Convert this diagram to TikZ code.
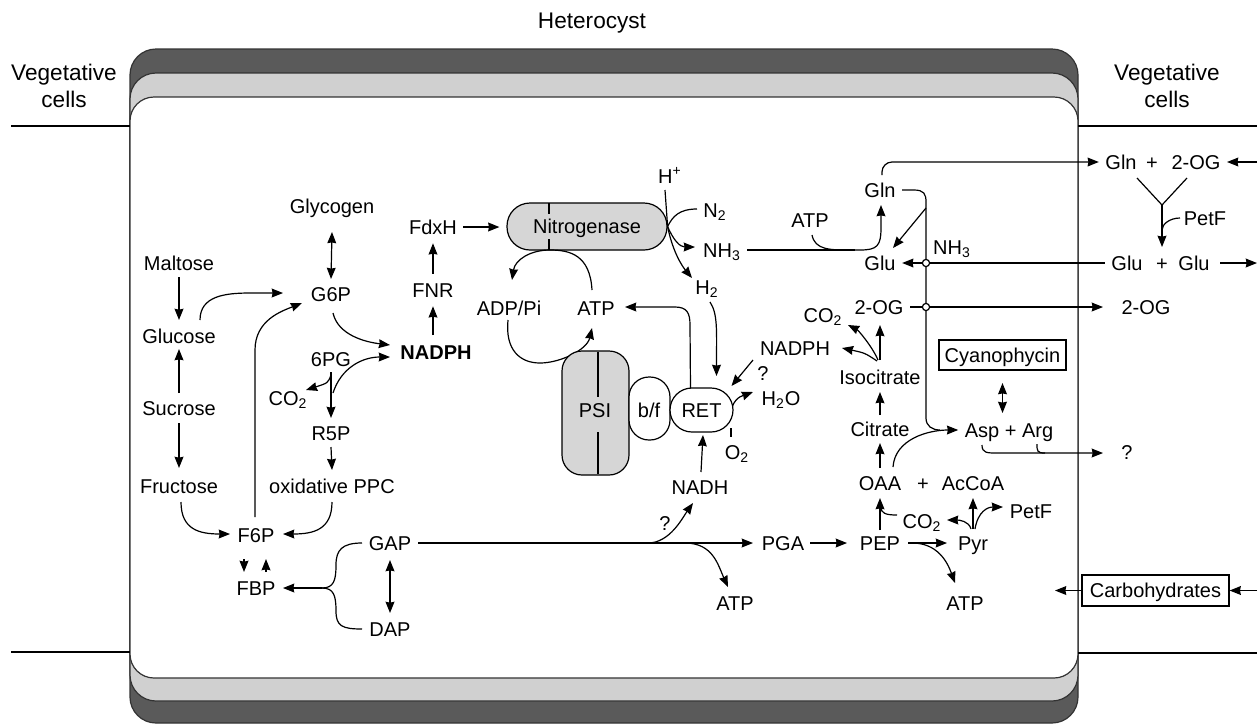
\documentclass[tikz,border=0pt]{standalone}
\usepackage{fontspec}
\setmainfont{Liberation Sans}
\usetikzlibrary{arrows.meta,calc}
\definecolor{darklayer}{HTML}{5A5A5A}
\definecolor{lightlayer}{HTML}{D0D0D0}
\definecolor{enzfill}{HTML}{D6D6D6}
\begin{document}
\begin{tikzpicture}[x=0.5pt,y=-0.5pt,
  font=\fontsize{10}{12}\selectfont,
  line width=0.6pt,
  >={Stealth[length=5.6pt,width=4.4pt,inset=0.4pt]},
  lbl/.style={inner sep=3pt,text height=8.4pt,text depth=1.3pt},
  title/.style={font=\fontsize{11.3}{13.5}\selectfont,align=center,inner sep=0pt},
  framebox/.style={draw,inner sep=0pt,text height=8.4pt,text depth=1.3pt},
  enzyme/.style={draw,fill=enzfill,inner sep=0pt,text height=8.4pt,text depth=1.3pt},
  carrier/.style={draw,fill=white,inner sep=0pt,text height=8.4pt,text depth=1.3pt},
  hub/.style={draw,fill=white,circle,inner sep=0pt,minimum size=3.6pt},
  layer/.style={draw=black!80,line width=0.6pt},
]
\useasboundingbox (0,0) rectangle (1260,725);
\fill[white] (0,0) rectangle (1260,725);

% ---------------- cell envelope ----------------
\draw[layer,fill=darklayer,rounded corners=13pt] (130,49) rectangle (1078,723);
\draw[layer,fill=lightlayer,rounded corners=13pt] (130,73) rectangle (1078,701);
\draw[layer,fill=white,rounded corners=12pt] (130,97) rectangle (1078,678);
\draw (11,126) -- (130,126);
\draw (1078,126) -- (1257,126);
\draw (11,652) -- (130,652);
\draw (1078,653) -- (1257,653);

\node[title] (het) at (592,23) {Heterocyst};
\node[title] (vegl) at (64,86) {Vegetative\\cells};
\node[title] (vegr) at (1167,86) {Vegetative\\cells};

% ---------------- nodes: left ----------------
\node[lbl] (glycogen) at (332,206) {Glycogen};
\node[lbl] (maltose) at (179,263) {Maltose};
\node[lbl] (g6p) at (331,294) {G6P};
\node[lbl] (glucose) at (179,336) {Glucose};
\node[lbl] (pg) at (331,359) {6PG};
\node[lbl] (nadphL) at (436,352) {\textbf{NADPH}};
\node[lbl] (fdxh) at (433,227) {FdxH};
\node[lbl] (fnr) at (433,290) {FNR};
\node[lbl] (co2a) at (288,398) {CO\textsubscript{2}};
\node[lbl] (sucrose) at (179,408) {Sucrose};
\node[lbl] (r5p) at (331,433) {R5P};
\node[lbl] (fructose) at (179,486) {Fructose};
\node[lbl] (oxppc) at (332,486) {oxidative PPC};
\node[lbl] (f6p) at (256,535) {F6P};
\node[lbl] (fbp) at (256,588) {FBP};
\node[lbl] (gap) at (390,543) {GAP};
\node[lbl] (dap) at (390,629) {DAP};

% ---------------- nodes: centre ----------------
\node[lbl] (adp) at (509,308) {ADP/Pi};
\node[lbl] (atpC) at (596,308) {ATP};
\node[lbl] (hplus) at (670,176) {H\textsuperscript{+}};
\node[lbl] (n2) at (715,210) {N\textsubscript{2}};
\node[lbl] (nh3a) at (722,250) {NH\textsubscript{3}};
\node[lbl] (h2) at (707,287) {H\textsubscript{2}};
\node[lbl] (nadphR) at (795,348) {NADPH};
\node[lbl] (qR) at (763,373) {?};
\node[lbl] (h2o) at (781,398) {H\textsubscript{2}O};
\node[lbl] (o2) at (737,452) {O\textsubscript{2}};
\node[lbl] (nadh) at (700,487) {NADH};
\node[lbl] (qB) at (665,523) {?};
\node[lbl] (pga) at (783,543) {PGA};
\node[lbl] (atpB) at (735,603) {ATP};

% ---------------- nodes: right ----------------
\node[lbl] (atpR) at (810,220) {ATP};
\node[lbl] (gln) at (880,190) {Gln};
\node[lbl] (glu) at (880,263) {Glu};
\node[lbl] (nh3b) at (952,247) {NH\textsubscript{3}};
\node[lbl] (og2) at (879,307) {2-OG};
\node[lbl] (co2b) at (823,315) {CO\textsubscript{2}};
\node[lbl] (isocit) at (880,377) {Isocitrate};
\node[framebox,minimum width=63.5pt,minimum height=15pt] (cyano) at (1002.5,355) {Cyanophycin};
\node[lbl] (citrate) at (880,429) {Citrate};
\node[lbl] (asparg) at (1009,430) {Asp + Arg};
\node[lbl] (qAsp) at (1127,452) {?};
\node[lbl] (oaa) at (880,483) {OAA};
\node[lbl] (plus3) at (923,483) {+};
\node[lbl] (accoa) at (973,483) {AcCoA};
\node[lbl] (co2c) at (922,521) {CO\textsubscript{2}};
\node[lbl] (petf2) at (1031,511) {PetF};
\node[lbl] (pep) at (880,543) {PEP};
\node[lbl] (pyr) at (973,543) {Pyr};
\node[lbl] (atpD) at (965,603) {ATP};
\node[framebox,minimum width=73.5pt,minimum height=15.5pt] (carbo) at (1155.5,590.5) {Carbohydrates};

\node[lbl] (gln2) at (1121,162) {Gln};
\node[lbl] (plus1) at (1152,162) {+};
\node[lbl] (og2r) at (1196,162) {2-OG};
\node[lbl] (petf1) at (1205,218) {PetF};
\node[lbl] (glu2) at (1127,263) {Glu};
\node[lbl] (plus2) at (1162,263) {+};
\node[lbl] (glu3) at (1194,263) {Glu};
\node[lbl] (og2out) at (1146,307) {2-OG};

\coordinate (rin1) at (1257,162);
\coordinate (rout1) at (1257,263);
\coordinate (rin2) at (1257,590.5);
\coordinate (cin) at (1055,590.5);
\coordinate (bj) at (322,588);
\coordinate (ymid) at (1162,205);

% ---------------- left pathways ----------------
\draw[<->] ($(glycogen)+(0,26)$) -- ($(g6p)+(0,-15)$);
\draw[->] ($(maltose)+(0,14)$) -- ($(glucose)+(0,-16)$);
\draw[->] ($(sucrose)+(0,-15)$) -- ($(glucose)+(0,13)$);
\draw[->] ($(sucrose)+(0,15)$) -- ($(fructose)+(0,-18)$);
\draw[->] ($(glucose)+(21,-16)$) .. controls +(0,-24) and +(-25,0) .. ($(g6p)+(-81,-1)$) -- ($(g6p)+(-48,-1)$);
\draw[->] ($(f6p)+(-1,-18)$) -- ($(f6p)+(-1,-185)$) .. controls +(0,-30) and +(-20,8) .. ($(g6p)+(-29,9)$);
\draw[->] ($(g6p)+(2,19)$) .. controls +(5,22) and +(-25,-3) .. ($(nadphL)+(-46,-7)$);
\draw[->] ($(pg)+(0,13)$) -- ($(r5p)+(0,-15)$);
\draw[->] ($(pg)+(0,16)$) .. controls +(-3,8) .. ($(co2a)+(18,-8)$);
\draw[->] ($(pg)+(2,34)$) .. controls +(8,-25) and +(-28,0) .. ($(nadphL)+(-46,5)$);
\draw[->] ($(r5p)+(0,14)$) -- ($(oxppc)+(0,-16)$);
\draw[->] ($(fructose)+(2,16)$) .. controls +(0,28) and +(-30,0) .. ($(f6p)+(-26,-1)$);
\draw[->] ($(oxppc)+(0,16)$) .. controls +(0,28) and +(30,0) .. ($(f6p)+(27,-1)$);
\draw[->] ($(f6p)+(-12,24)$) -- ($(f6p)+(-12,37)$);
\draw[->] ($(fbp)+(10,-16)$) -- ($(fbp)+(10,-29)$);
\draw[<->] ($(gap)+(0,17)$) -- ($(dap)+(0,-16)$);
\draw ($(gap)+(-28,0)$) .. controls +(-20,0) and +(0,-15) .. (336,565) .. controls +(0,15) and +(12,0) .. (bj);
\draw ($(dap)+(-28,0)$) .. controls +(-20,0) and +(0,15) .. (336,611) .. controls +(0,-15) and +(12,0) .. (bj);
\draw[->] (bj) -- ($(fbp)+(27,0)$);
\draw[->] (fnr) -- (fdxh);
\draw[->] ($(nadphL)+(-3,-17)$) -- (fnr);

% ---------------- central pathways ----------------
\draw[->] ($(gap)+(28,0)$) -- ($(pga)+(-30,0)$);
\draw[->] ($(gap)+(258,0)$) .. controls +(22,0) and +(-10,14) .. ($(nadh)+(-7,16)$);
\draw[->] ($(gap)+(295,0)$) .. controls +(28,0) and +(-10,-22) .. ($(atpB)+(-7,-16)$);
\draw[->] ($(pga)+(27,0)$) -- ($(pep)+(-33,0)$);

% nitrogenase cycle (drawn before PSI so that PSI covers it)
\draw[->] ($(adp)+(-1,12)$) .. controls +(-3,30) and +(-20,0) .. (540,363) .. controls +(20,0) and +(-5,22) .. ($(atpC)+(-4,20)$);

% enzymes
\node[enzyme,rounded corners=11.5pt,minimum width=80pt,minimum height=23.5pt] (nitro) at (587,226.5) {Nitrogenase};
\draw (549,203) -- (549,214);
\draw (549,239) -- (549,250);
\node[enzyme,rounded corners=10pt,minimum width=33.5pt,minimum height=62pt] (psi) at (595.5,413) {};
\draw (598,352) -- (598,397);
\draw (598,432) -- (598,474);
\node[lbl] (psilbl) at (595,410) {PSI};
\node[carrier,rounded corners=10pt,minimum width=20.5pt,minimum height=31.5pt] (bf) at (649.5,408.5) {};
\node[lbl] (bflbl) at (649,410) {b/f};
\node[carrier,rounded corners=11pt,minimum width=31.5pt,minimum height=22pt] (ret) at (701.5,410) {RET};

\draw[->,shorten >=3.5pt] (fdxh) -- (nitro.west |- fdxh);
\draw[->] ($(atpC)+(-4,-18)$) .. controls +(-2,-35) and +(20,0) .. (550,250) .. controls +(-20,0) and +(3,-20) .. ($(adp)+(3,-28)$);
\draw ($(hplus)+(-5,14)$) -- (nitro.east);
\draw ($(n2)+(-18,-1)$) .. controls +(-18,0) and +(5,-10) .. (nitro.east);
\draw[->] (nitro.east) .. controls +(6,14) and +(-15,0) .. ($(nh3a)+(-27,-3)$);
\draw[->] (nitro.east) .. controls +(5,25) and +(-10,-12) .. ($(h2)+(-15,-9)$);

\draw[->] ($(ret)+(-11,-22)$) -- (690,325) .. controls +(0,-12) and +(12,0) .. (675,307) -- ($(atpC)+(29,-1)$);
\draw[->] ($(h2)+(3,15)$) .. controls +(8,12) and +(0,-45) .. ($(ret)+(15,-34)$);
\draw[->] ($(nadphR)+(-42,12)$) -- ($(ret)+(30,-24)$);
\draw[->] ($(ret)+(31,-4)$) .. controls +(4,-10) and +(-8,3) .. ($(h2o)+(-28,-6)$);
\draw ($(ret)+(29.5,18)$) -- ($(o2)+(-6,-15)$);
\draw[->] ($(nadh)+(1,-15)$) -- ($(ret)+(1.5,25)$);

% ---------------- right pathways ----------------
\draw[->] ($(atpR)+(2,15)$) .. controls +(3,15) and +(-20,0) .. (850,250) -- (860,250) .. controls +(17,0) and +(0,18) .. (881,228) -- ($(gln)+(1,15)$);
\draw ($(nh3a)+(25,0)$) -- (855,250);
\draw[->,rounded corners=5pt] ($(gln)+(2,-15)$) |- (gln2.west);
\draw (gln.east) -- (914,190) .. controls +(10,0) and +(0,-8) .. (926,202) -- (926,418) .. controls +(0,8) and +(-8,0) .. (940,430);
\draw[->] (926,208) -- ($(glu)+(13,-15)$);
\draw[->] (glu2.west) -- (glu.east);
\draw[->] (og2.east) -- ($(og2out)+(-43,0)$);
\node[hub] (hub1) at (926,263) {};
\node[hub] (hub2) at (926,307) {};

\draw[->] ($(isocit)+(0,-17)$) -- ($(og2)+(1,18)$);
\draw[->] ($(isocit)+(-2,-17)$) .. controls +(-6,-14) and +(10,5) .. ($(co2b)+(25,10)$);
\draw[->] ($(isocit)+(-3,-16)$) .. controls +(-12,-8) .. ($(nadphR)+(47,0)$);
\draw[->] ($(citrate)+(0,-14)$) -- ($(isocit)+(0,15)$);
\draw[->] ($(oaa)+(0,-15)$) -- ($(citrate)+(0,14)$);
\draw[->] ($(oaa)+(13,-16)$) .. controls +(2,-28) and +(-30,0) .. (asparg.west);
\draw[<->] ($(cyano)+(0,28)$) -- ($(cyano)+(0,58)$);
\draw[->] ($(asparg)+(-27,15)$) .. controls +(0,8) and +(-10,0) .. (997,453) -- ($(qAsp)+(-24,1)$);
\draw ($(asparg)+(28,14)$) .. controls +(0,7) and +(-8,0) .. (1045,453);

\draw[->] ($(pep)+(0,-13)$) -- ($(oaa)+(0,15)$);
\draw ($(co2c)+(-25,-6)$) .. controls +(-12,0) and +(0,6) .. ($(pep)+(1,-36)$);
\draw[->] ($(pep)+(28,0)$) -- ($(pyr)+(-26,0)$);
\draw[->] ($(pep)+(32,0)$) .. controls +(25,0) and +(-8,-22) .. ($(atpD)+(-10,-20)$);
\draw[->] ($(pyr)+(0,-14)$) -- ($(accoa)+(0,15)$);
\draw[->] ($(pyr)+(-2,-14)$) .. controls +(-2,-8) and +(12,0) .. ($(co2c)+(25,-1)$);
\draw[->] ($(pyr)+(2,-14)$) .. controls +(3,-18) and +(-15,0) .. ($(petf2)+(-28,-4)$);

\draw[->] (rin2) -- (carbo.east);
\draw[->] (carbo.west) -- (cin);

% vegetative side
\draw[->] (rin1) -- (og2r.east);
\draw ($(gln2)+(16,16)$) -- (ymid) -- ($(og2r)+(-9,16)$);
\draw[->] (ymid) -- ($(plus2)+(0,-16)$);
\draw ($(petf1)+(-25,0)$) .. controls +(-10,0) and +(0,-6) .. ($(ymid)+(0,25)$);
\draw[->] ($(glu3)+(26,0)$) -- (rout1);
\end{tikzpicture}
\end{document}
